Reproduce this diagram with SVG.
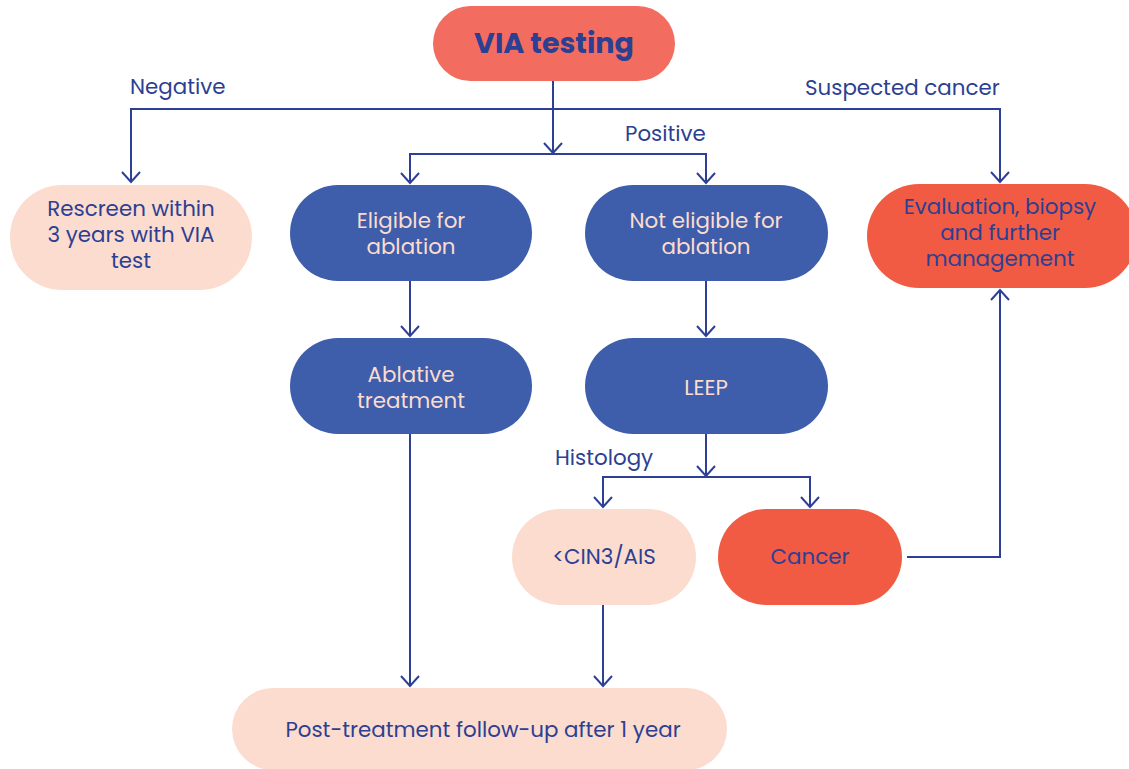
<svg xmlns="http://www.w3.org/2000/svg" width="1129" height="769" viewBox="0 0 1129 769">
<style>
.t{font-family:"Poppins","Open Sans","Noto Sans",sans-serif;font-size:21.4px;text-anchor:middle;}
.dk{fill:#2D3F92;}
.lt{fill:#FBDCCE;}
.lbl{font-family:"Poppins","Open Sans","Noto Sans",sans-serif;font-size:21.4px;fill:#2D3F92;}
.blue{fill:#3E5DAB;}
.peach{fill:#FBDCCE;}
.red{fill:#F15B43;}
.sal{fill:#F26D5F;}
.c{fill:none;stroke:#2D4096;stroke-width:2;}
</style>
<defs>
<marker id="ah" markerUnits="userSpaceOnUse" viewBox="-12 -10 14 20" markerWidth="14" markerHeight="20" refX="0" refY="0" orient="auto">
<path d="M-10,-9 L0,0 L-10,9" fill="none" stroke="#2D4096" stroke-width="2"/>
</marker>
</defs>
<rect width="1129" height="769" fill="#ffffff"/>
<g id="connectors">
<path class="c" d="M553 81 V153" marker-end="url(#ah)"/>
<path class="c" d="M553 109 H131 V182" marker-end="url(#ah)"/>
<path class="c" d="M553 109 H1000 V182" marker-end="url(#ah)"/>
<path class="c" d="M553 154 H410 V183" marker-end="url(#ah)"/>
<path class="c" d="M553 154 H706 V183" marker-end="url(#ah)"/>
<path class="c" d="M410 281 V336" marker-end="url(#ah)"/>
<path class="c" d="M706 281 V336" marker-end="url(#ah)"/>
<path class="c" d="M706 434 V476" marker-end="url(#ah)"/>
<path class="c" d="M706 477 H603 V507" marker-end="url(#ah)"/>
<path class="c" d="M706 477 H810 V507" marker-end="url(#ah)"/>
<path class="c" d="M410 434 V686" marker-end="url(#ah)"/>
<path class="c" d="M603 605 V686" marker-end="url(#ah)"/>
<path class="c" d="M907 557 H1000 V290" marker-end="url(#ah)"/>
</g>
<g id="labels">
<text class="lbl" x="130" y="94">Negative</text>
<text class="lbl" x="805" y="95">Suspected cancer</text>
<text class="lbl" x="625" y="141">Positive</text>
<text class="lbl" x="555" y="465">Histology</text>
</g>
<g id="via">
<rect class="sal" x="433" y="6" width="242" height="75" rx="37.5"/>
<text class="t dk" x="554" y="53" style="font-size:28.5px;font-weight:bold">VIA testing</text>
</g>
<g id="rescreen">
<rect class="peach" x="10" y="185" width="242" height="105" rx="52"/>
<text class="t dk" x="131" y="216">Rescreen within</text>
<text class="t dk" x="131" y="242">3 years with VIA</text>
<text class="t dk" x="131" y="268">test</text>
</g>
<g id="eligible">
<rect class="blue" x="290" y="185" width="242" height="96" rx="48"/>
<text class="t lt" x="411" y="228">Eligible for</text>
<text class="t lt" x="411" y="254">ablation</text>
</g>
<g id="noteligible">
<rect class="blue" x="585" y="185" width="243" height="96" rx="48"/>
<text class="t lt" x="706" y="228">Not eligible for</text>
<text class="t lt" x="706" y="254">ablation</text>
</g>
<g id="evaluation">
<rect class="red" x="867" y="184" width="270" height="104" rx="52"/>
<text class="t dk" x="1000" y="214">Evaluation, biopsy</text>
<text class="t dk" x="1000" y="240">and further</text>
<text class="t dk" x="1000" y="266">management</text>
</g>
<g id="ablative">
<rect class="blue" x="290" y="338" width="242" height="96" rx="48"/>
<text class="t lt" x="411" y="382">Ablative</text>
<text class="t lt" x="411" y="408">treatment</text>
</g>
<g id="leep">
<rect class="blue" x="585" y="338" width="243" height="96" rx="48"/>
<text class="t lt" x="706" y="395">LEEP</text>
</g>
<g id="cin">
<rect class="peach" x="512" y="509" width="184" height="96" rx="48"/>
<text class="t dk" x="604" y="564">&lt;CIN3/AIS</text>
</g>
<g id="cancer">
<rect class="red" x="718" y="509" width="184" height="96" rx="48"/>
<text class="t dk" x="810" y="564">Cancer</text>
</g>
<g id="followup">
<rect class="peach" x="232" y="688" width="495" height="82" rx="41"/>
<text class="t dk" x="483" y="737">Post-treatment follow-up after 1 year</text>
</g>
</svg>
